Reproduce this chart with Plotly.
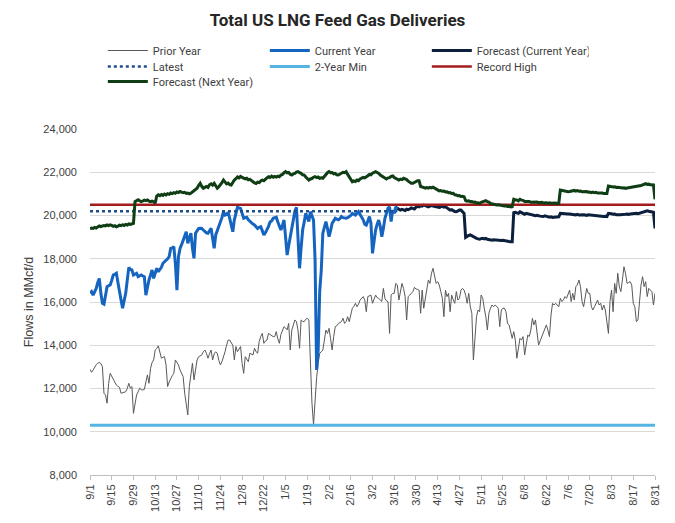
import pandas as pd
import plotly.graph_objects as go

# Daily dates for the Sep-Aug season
dates = pd.date_range("2024-09-01", "2025-08-31", freq="D")

# Prior year flows (MMcf/d), one value per day
prior_year = [
    12890, 12750, 12850, 13010, 13100, 13170, 13200, 13150, 13010, 11780,
    11700, 11320, 12240, 12700, 12550, 12400, 12300, 12160, 12100, 12050,
    11780, 11800, 11810, 11850, 12000, 12240, 12010, 12090, 10850, 11320,
    11700, 11850, 12010, 11950, 11930, 11960, 12300, 12630, 12240, 12930,
    13200, 13320, 13780, 13850, 13970, 13700, 13400, 13450, 13470, 13090,
    12090, 12300, 12470, 12600, 12700, 13320, 13200, 13090, 12860, 12700,
    12550, 11780, 11200, 10780, 12090, 12700, 13170, 12400, 13000, 13320,
    13470, 13500, 13550, 13700, 13780, 13630, 13400, 13600, 13780, 13320,
    13600, 13700, 13630, 13300, 13090, 13240, 13450, 13700, 14000, 14240,
    14240, 14090, 14000, 13320, 13940, 13700, 13800, 13940, 13160, 12700,
    13470, 13350, 13240, 13630, 13600, 13550, 13860, 13700, 13630, 14170,
    14400, 14550, 14090, 14200, 14240, 14550, 14500, 14430, 14400, 14400,
    14630, 14300, 14090, 14500, 14710, 14860, 14800, 14710, 15010, 13780,
    14700, 15000, 15170, 15090, 14700, 13860, 15170, 15100, 15090, 15200,
    15250, 15170, 12860, 11320, 10330, 11620, 12500, 13160, 13630, 13700,
    13780, 14240, 14700, 14550, 14780, 14300, 13780, 14400, 14860, 14900,
    15010, 15050, 15090, 15250, 15010, 15100, 15320, 15090, 15480, 15710,
    15800, 15940, 15780, 15900, 16090, 16200, 16250, 16100, 15550, 16250,
    16300, 16320, 15940, 16100, 16320, 16200, 16170, 16090, 16020, 16630,
    16170, 16050, 16015, 14550, 16320, 16400, 16400, 16860, 16790, 16090,
    16400, 16860, 16630, 16250, 15170, 16250, 16320, 16400, 16480, 16680,
    16600, 16585, 16550, 15480, 16550, 15710, 16090, 16600, 17020, 16860,
    17330, 17560, 17170, 16860, 16940, 16790, 16480, 16170, 15320, 16550,
    16250, 16400, 15550, 16320, 16100, 15940, 16480, 16090, 16170, 16550,
    16630, 16550, 16320, 15940, 16400, 15780, 15480, 13320, 14300, 15320,
    15630, 15550, 16320, 16170, 15710, 15320, 14710, 15480, 15710, 15860,
    15780, 15860, 15800, 15710, 14860, 15630, 15710, 15710, 15550, 15010,
    14940, 14630, 14320, 14630, 14240, 13400, 14000, 14320, 14240, 14400,
    13550, 14090, 14470, 14400, 14700, 15240, 14940, 15170, 14630, 14010,
    14200, 14400, 14550, 14700, 14940, 14700, 14400, 15400, 15940, 15860,
    15940, 15860, 15780, 16170, 16020, 16100, 16250, 16170, 16400, 16550,
    16020, 16400, 16090, 16710, 16790, 17020, 16710, 16020, 15780, 16300,
    16630, 16400, 16400, 15780, 15630, 15780, 15940, 16090, 15860, 15940,
    15630, 15860, 15630, 15000, 14550, 16020, 16550, 15550, 16860, 16400,
    17330, 16710, 16480, 17020, 17630, 17330, 16860, 16900, 16940, 16790,
    15940, 15780, 15090, 15170, 16090, 16790, 17170, 16710, 16940, 16250,
    16630, 16550, 16480, 15860, 16400,
]

# Current year actuals (9/1 through the latest day)
current_year = [
    16400, 16480, 16320, 16450, 16630, 16900, 17090, 16400, 15940, 15900,
    16300, 16710, 16750, 16790, 17000, 17250, 17280, 17330, 16900, 16400,
    16090, 15710, 16000, 16400, 17000, 17600, 17500, 17480, 17250, 17300,
    17330, 17170, 17200, 17250, 17200, 17170, 16320, 16700, 17020, 17250,
    17480, 17090, 17350, 17560, 17400, 17500, 17600, 17790, 17850, 17940,
    18000, 18100, 18480, 18500, 18560, 17800, 16550, 18100, 18480, 18650,
    18870, 19100, 19250, 18710, 18950, 19180, 18500, 18020, 19180, 19300,
    19400, 19410, 19400, 19330, 19250, 19200, 19180, 19300, 19410, 18950,
    18480, 19100, 19300, 19410, 19640, 19900, 20180, 20020, 20050, 20150,
    19870, 19500, 19250, 19800, 20100, 20380, 20350, 20330, 20100, 19870,
    19900, 19920, 19800, 19720, 19650, 19600, 19560, 19500, 19400, 19450,
    19480, 19300, 19100, 19200, 19330, 19500, 19700, 19750, 19870, 19900,
    19920, 19700, 19500, 19330, 19550, 19790, 19000, 18170, 18600, 19020,
    19500, 19950, 20200, 20380, 18640, 17560, 18500, 19330, 19700, 20100,
    19900, 19720, 20180, 20000, 19790, 17940, 12860, 13780, 16500, 17480,
    19180, 19450, 19720, 19400, 19020, 19300, 19640, 19750, 19870, 19830,
    19800, 19850, 19950, 19900, 19870, 19870, 19900, 19950, 20000, 20100,
    20050, 20020, 20100, 20180, 20050, 19950, 19800, 19600, 19560, 19750,
    19950, 19640, 18250, 18800, 19330, 19600, 19790, 19500, 19020, 19400,
    19870, 20100, 20330, 20400, 19720, 20250, 20100, 20400, 20330,
]

# Forecast for the rest of the current year (starts on the latest day)
forecast_current = [
    20330, 20300, 20250, 20280, 20250, 20230, 20290, 20270, 20300, 20350,
    20330, 20300, 20380, 20420, 20400, 20450, 20430, 20480, 20460, 20420,
    20400, 20430, 20460, 20440, 20430, 20400, 20380, 20370, 20400, 20420,
    20390, 20410, 20350, 20300, 20250, 20270, 20220, 20180, 20170, 20220,
    20250, 20250, 20150, 20100, 18990, 19050, 19080, 19100, 19050, 19000,
    18950, 18940, 18920, 18900, 18930, 18950, 18920, 18940, 18900, 18880,
    18870, 18860, 18880, 18870, 18850, 18870, 18860, 18840, 18850, 18830,
    18840, 18820, 18800, 18790, 18790, 20130, 20150, 20120, 20100, 20170,
    20140, 20100, 20060, 20100, 20080, 20050, 20030, 20020, 20000, 19990,
    20010, 19980, 19970, 19960, 19950, 19980, 19950, 19930, 19920, 19940,
    19910, 19920, 19930, 19950, 19940, 20100, 20090, 20070, 20080, 20060,
    20070, 20070, 20050, 20060, 20040, 20030, 20050, 20020, 20030, 20010,
    20030, 20020, 20000, 20030, 20020, 20010, 20000, 19990, 20000, 19980,
    19970, 19980, 19960, 19950, 19960, 19950, 20100, 20100, 20080, 20060,
    20070, 20040, 20030, 20020, 20040, 20050, 20040, 20060, 20070, 20050,
    20070, 20080, 20060, 20090, 20100, 20080, 20100, 20120, 20150, 20170,
    20200, 20220, 20200, 20180, 20170, 20150, 19400,
]

# Forecast for next year, full season
forecast_next = [
    19380, 19420, 19400, 19450, 19420, 19480, 19520, 19490, 19510, 19540,
    19520, 19560, 19530, 19570, 19540, 19500, 19530, 19480, 19510, 19550,
    19530, 19570, 19540, 19590, 19560, 19610, 19590, 19630, 19640, 20640,
    20700, 20730, 20680, 20640, 20670, 20710, 20690, 20720, 20660, 20640,
    20670, 20640, 20570, 20900, 20960, 20920, 20970, 20930, 20990, 20950,
    21010, 20980, 21040, 21010, 21060, 21030, 21090, 21060, 21110, 21080,
    21050, 21070, 21020, 21040, 21000, 21030, 21080, 21140, 21190, 21260,
    21400, 21490, 21350, 21260, 21300, 21340, 21300, 21420, 21460, 21400,
    21490, 21350, 21260, 21330, 21410, 21520, 21640, 21550, 21460, 21500,
    21430, 21410, 21550, 21640, 21700, 21780, 21740, 21810, 21760, 21730,
    21690, 21720, 21650, 21670, 21590, 21560, 21510, 21480, 21540, 21520,
    21600, 21640, 21610, 21700, 21740, 21790, 21760, 21820, 21770, 21810,
    21780, 21820, 21790, 21870, 21900, 21980, 22030, 21970, 21990, 21910,
    21870, 21930, 21950, 22010, 22030, 21980, 21950, 21880, 21870, 21780,
    21720, 21640, 21690, 21710, 21770, 21800, 21750, 21780, 21720, 21740,
    21720, 21820, 21880, 21980, 22030, 21980, 21990, 21930, 21950, 21880,
    21870, 21920, 21940, 22000, 21980, 22030, 21900, 21780, 21650, 21560,
    21600, 21570, 21640, 21610, 21690, 21720, 21760, 21740, 21810, 21840,
    21900, 21880, 21960, 22000, 22030, 21990, 21950, 21870, 21830, 21760,
    21720, 21690, 21740, 21750, 21810, 21830, 21760, 21730, 21700, 21640,
    21680, 21660, 21720, 21700, 21660, 21590, 21550, 21490, 21490, 21540,
    21560, 21610, 21610, 21340, 21320, 21280, 21260, 21290, 21270, 21300,
    21280, 21310, 21260, 21210, 21190, 21140, 21150, 21120, 21130, 21090,
    21100, 21050, 21060, 21020, 21030, 20960, 20950, 20910, 20920, 20880,
    20890, 20870, 20690, 20660, 20680, 20640, 20650, 20610, 20620, 20580,
    20590, 20560, 20610, 20640, 20680, 20690, 20640, 20620, 20560, 20540,
    20510, 20520, 20490, 20500, 20480, 20470, 20470, 20440, 20450, 20420,
    20430, 20400, 20410, 20750, 20720, 20720, 20680, 20750, 20710, 20700,
    20650, 20650, 20620, 20650, 20610, 20620, 20600, 20610, 20620, 20590,
    20600, 20610, 20580, 20600, 20590, 20570, 20590, 20570, 20580, 20570,
    20580, 20550, 20560, 21180, 21160, 21160, 21120, 21130, 21100, 21110,
    21130, 21140, 21160, 21130, 21150, 21120, 21130, 21100, 21110, 21100,
    21110, 21080, 21090, 21060, 21080, 21050, 21070, 21040, 21050, 21030,
    21040, 21020, 21030, 21020, 21360, 21340, 21350, 21320, 21330, 21300,
    21310, 21290, 21300, 21270, 21280, 21250, 21270, 21280, 21310, 21300,
    21330, 21320, 21340, 21350, 21380, 21390, 21420, 21440, 21470, 21440,
    21450, 21420, 21430, 21410, 20750,
]

# Reference levels
latest = 20200
two_year_min = 10300
record_high = 20500

n_cur = len(current_year)
cur_dates = dates[:n_cur]
fc_dates = dates[n_cur - 1:]

fig = go.Figure()

# Series in the same order as the legend; each legend row is its own legend
fig.add_trace(go.Scatter(x=dates, y=prior_year, name="Prior Year", mode="lines",
                         line=dict(color="#595959", width=1), legend="legend"))
fig.add_trace(go.Scatter(x=cur_dates, y=current_year, name="Current Year", mode="lines",
                         line=dict(color="#1565c0", width=3), legend="legend"))
fig.add_trace(go.Scatter(x=fc_dates, y=forecast_current, name="Forecast (Current Year)",
                         mode="lines", line=dict(color="#0c1f3d", width=3), legend="legend"))
fig.add_trace(go.Scatter(x=cur_dates, y=[latest] * n_cur, name="Latest", mode="lines",
                         line=dict(color="#1f4e8c", width=2.5, dash="dot"), legend="legend2"))
fig.add_trace(go.Scatter(x=dates, y=[two_year_min] * len(dates), name="2-Year Min",
                         mode="lines", line=dict(color="#56b4e3", width=3), legend="legend2"))
fig.add_trace(go.Scatter(x=dates, y=[record_high] * len(dates), name="Record High",
                         mode="lines", line=dict(color="#a31c1c", width=2.5), legend="legend2"))
fig.add_trace(go.Scatter(x=dates, y=forecast_next, name="Forecast (Next Year)",
                         mode="lines", line=dict(color="#0f3d14", width=3), legend="legend3"))

# Shared legend row style
legend_font = dict(family="Roboto, Liberation Sans, sans-serif", size=11, color="#404040")
row = dict(orientation="h", x=0.0227, xanchor="left", yanchor="top",
           entrywidth=107, itemwidth=40, font=legend_font, bgcolor="rgba(0,0,0,0)")

fig.update_layout(
    width=675, height=523,
    margin=dict(l=90, r=20, t=129, b=48),
    plot_bgcolor="white", paper_bgcolor="white",
    font=dict(family="Liberation Sans, Arial, sans-serif", size=11, color="#595959"),
    title=dict(text="<b>Total US LNG Feed Gas Deliveries</b>", x=0.5, xanchor="center",
               y=0.962, yanchor="middle", yref="container",
               font=dict(family="Roboto, Liberation Sans, sans-serif", size=17, color="#262626")),
    legend=dict(row, y=1.2688),
    legend2=dict(row, y=1.2225),
    legend3=dict(row, y=1.1792),
    showlegend=True,
)

fig.update_xaxes(
    range=[dates[0], dates[-1]], automargin=False,
    tick0=dates[0], dtick=14 * 86400000, tickformat="%-m/%-d", tickangle=-90,
    showgrid=False, showline=True, linecolor="#bfbfbf", linewidth=1,
    ticks="outside", ticklen=4, tickcolor="#bfbfbf",
    tickfont=dict(size=11, color="#404040"),
)
fig.update_yaxes(
    range=[8000, 24000], dtick=2000, tickformat=",", automargin=False,
    showgrid=True, gridcolor="#d9d9d9", gridwidth=1, zeroline=False,
    ticklabelstandoff=12,
    tickfont=dict(size=11, color="#404040"),
    title=dict(text="Flows in MMcf/d", font=dict(size=12.5, color="#404040"), standoff=6),
)

# Drop the default page margin so the figure sits at the window's corner
fig.write_html("out.html", config={"displayModeBar": False},
               post_script="document.body.style.margin='0';")
